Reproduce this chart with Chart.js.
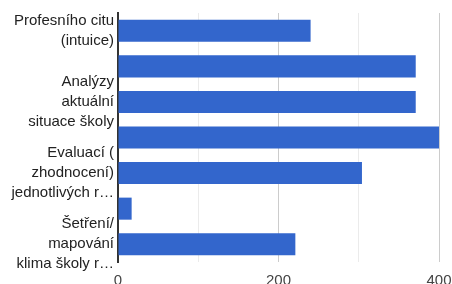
<!DOCTYPE html>
<html>
<head>
<meta charset="utf-8">
<script src="https://cdn.jsdelivr.net/npm/chart.js@4"></script>
<style>
  html, body { margin: 0; padding: 0; background: #fff; }
  #wrap { width: 452px; height: 284px; }
</style>
</head>
<body>
<div id="wrap"><canvas id="graf"></canvas></div>
<script>
// kategorie (skryte popisky nejsou v obrazku citelne)
const kategorie = [
    ['Profesního citu', '(intuice)'],
    '',
    ['Analýzy', 'aktuální', 'situace školy'],
    '',
    ['Evaluací (', 'zhodnocení)', 'jednotlivých r…'],
    '',
    ['Šetření/', 'mapování', 'klima školy r…']
];
const hodnoty = [240, 371, 371, 401, 304, 17, 221];
const osaX = [0, 200, 400];

const ctx = document.getElementById('graf');

new Chart(ctx, {
    type: 'bar',
    data: {
        labels: kategorie,
        datasets: [{
            data: hodnoty,
            backgroundColor: '#3366cc',
            borderWidth: 0,
            barPercentage: 0.62,
            categoryPercentage: 1
        }]
    },
    options: {
        indexAxis: 'y',
        responsive: true,
        maintainAspectRatio: false,
        animation: false,
        layout: { padding: { top: 13, right: 13, left: 0, bottom: 0 } },
        plugins: {
            legend: { display: false },
            tooltip: { enabled: false }
        },
        scales: {
            x: {
                min: 0,
                max: 400,
                ticks: {
                    stepSize: 100,
                    color: '#444',
                    font: { family: 'Liberation Sans, Arial', size: 15 },
                    padding: 10,
                    callback: (v) => osaX.includes(v) ? v : ''
                },
                grid: {
                    drawTicks: false,
                    color: (c) => c.tick && c.tick.value === 0 ? 'rgba(0,0,0,0)' :
                        (c.tick && c.tick.value % 200 === 0 ? '#cccccc' : '#ebebeb'),
                    lineWidth: 1
                },
                border: { display: false },
                afterFit: (scale) => {
                    scale.height = 22;
                    scale.paddingLeft = 0;
                    scale.paddingRight = 0;
                }
            },
            y: {
                ticks: {
                    autoSkip: false,
                    color: '#222',
                    padding: 4,
                    font: { family: 'Liberation Sans, Arial', size: 15, lineHeight: '20px' }
                },
                grid: { display: false, drawTicks: false },
                border: { display: true, color: '#333', width: 2 },
                afterFit: (scale) => {
                    scale.width = 118;
                    scale.paddingTop = 0;
                    scale.paddingBottom = 0;
                }
            }
        }
    }
});
</script>
</body>
</html>
